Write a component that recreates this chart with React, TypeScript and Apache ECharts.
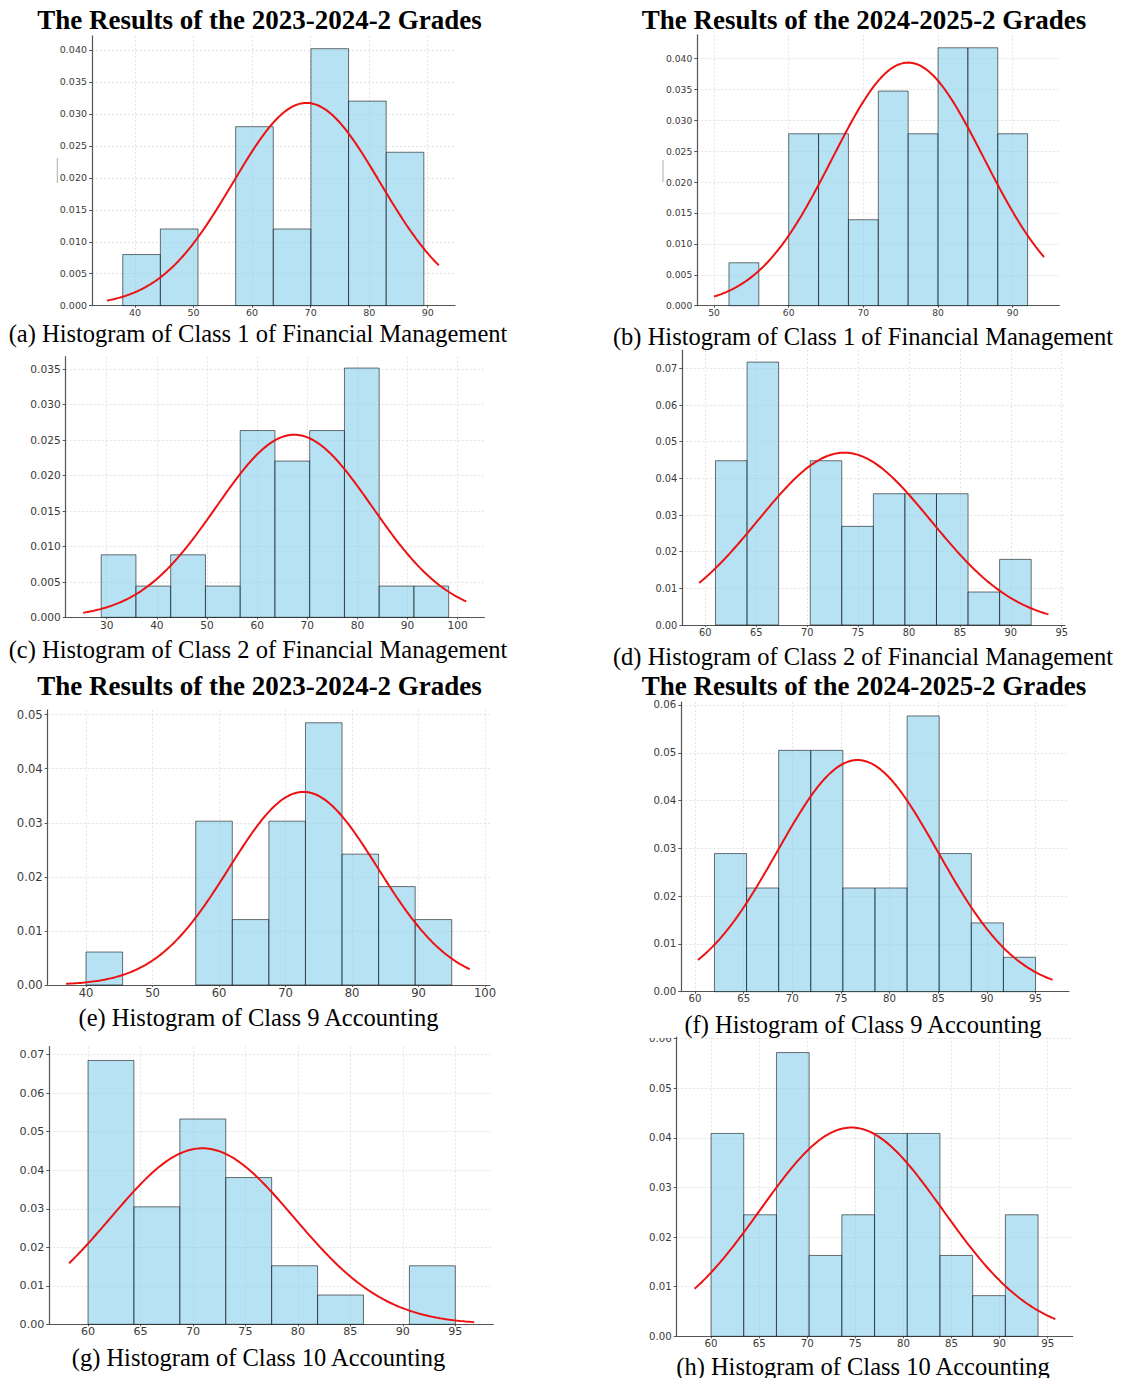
import React, { useEffect, useRef } from 'react';
import * as echarts from 'echarts';

// ---------------- data ----------------
// (a) 2023-2024-2, Class 1 of Financial Management
const binsA = [37.9, 44.33, 50.76, 57.19, 63.62, 70.05, 76.48, 82.91, 89.34];
const densA = [0.008, 0.012, 0, 0.028, 0.012, 0.0402, 0.032, 0.024];
const fitA = { mean: 69.3, sd: 12.58, from: 35.2, to: 91.9 };
const xTicksA = [40, 50, 60, 70, 80, 90];
const yTicksA = [0, 0.005, 0.01, 0.015, 0.02, 0.025, 0.03, 0.035, 0.04];

// (b) 2024-2025-2, Class 1 of Financial Management
const binsB = [52, 56, 60, 64, 68, 72, 76, 80, 84, 88, 92];
const densB = [0.00694, 0, 0.0278, 0.0278, 0.0139, 0.0347, 0.0278, 0.0417, 0.0417, 0.0278];
const fitB = { mean: 76.0, sd: 10.15, from: 50, to: 94.2 };
const xTicksB = [50, 60, 70, 80, 90];
const yTicksB = [0, 0.005, 0.01, 0.015, 0.02, 0.025, 0.03, 0.035, 0.04];

// (c) 2023-2024-2, Class 2 of Financial Management
const binsC = [28.9, 35.83, 42.76, 49.69, 56.62, 63.55, 70.48, 77.41, 84.34, 91.27, 98.2];
const densC = [0.0088, 0.0044, 0.0088, 0.0044, 0.0263, 0.022, 0.0263, 0.0351, 0.0044, 0.0044];
const fitC = { mean: 67.4, sd: 15.52, from: 25.3, to: 101.7 };
const xTicksC = [30, 40, 50, 60, 70, 80, 90, 100];
const yTicksC = [0, 0.005, 0.01, 0.015, 0.02, 0.025, 0.03, 0.035];

// (d) 2024-2025-2, Class 2 of Financial Management
const binsD = [61, 64.1, 67.2, 70.3, 73.4, 76.5, 79.6, 82.7, 85.8, 88.9, 92];
const densD = [0.0448, 0.0717, 0, 0.0448, 0.0269, 0.0358, 0.0358, 0.0358, 0.009, 0.0179];
const fitD = { mean: 73.65, sd: 8.49, from: 59.4, to: 93.7 };
const xTicksD = [60, 65, 70, 75, 80, 85, 90, 95];
const yTicksD = [0, 0.01, 0.02, 0.03, 0.04, 0.05, 0.06, 0.07];

// (e) 2023-2024-2, Class 9 Accounting
const binsE = [40, 45.5, 51, 56.5, 62, 67.5, 73, 78.5, 84, 89.5, 95];
const densE = [0.0061, 0, 0, 0.0303, 0.0121, 0.0303, 0.0485, 0.0242, 0.0182, 0.0121];
const fitE = { mean: 72.7, sd: 11.17, from: 37.0, to: 97.7 };
const xTicksE = [40, 50, 60, 70, 80, 90, 100];
const yTicksE = [0, 0.01, 0.02, 0.03, 0.04, 0.05];

// (f) 2024-2025-2, Class 9 Accounting
const binsF = [62, 65.3, 68.6, 71.9, 75.2, 78.5, 81.8, 85.1, 88.4, 91.7, 95];
const densF = [0.0289, 0.0217, 0.0505, 0.0505, 0.0217, 0.0217, 0.0577, 0.0289, 0.0144, 0.0072];
const fitF = { mean: 76.7, sd: 8.23, from: 60.3, to: 96.75 };
const xTicksF = [60, 65, 70, 75, 80, 85, 90, 95];
const yTicksF = [0, 0.01, 0.02, 0.03, 0.04, 0.05, 0.06];

// (g) 2023-2024-2, Class 10 Accounting
const binsG = [60, 64.375, 68.75, 73.125, 77.5, 81.875, 86.25, 90.625, 95];
const densG = [0.0685, 0.0305, 0.0533, 0.0381, 0.0152, 0.0076, 0, 0.0152];
const fitG = { mean: 70.9, sd: 8.73, from: 58.2, to: 96.8 };
const xTicksG = [60, 65, 70, 75, 80, 85, 90, 95];
const yTicksG = [0, 0.01, 0.02, 0.03, 0.04, 0.05, 0.06, 0.07];

// (h) 2024-2025-2, Class 10 Accounting
const binsH = [60, 63.4, 66.8, 70.2, 73.6, 77, 80.4, 83.8, 87.2, 90.6, 94];
const densH = [0.0409, 0.0245, 0.0572, 0.0163, 0.0245, 0.0409, 0.0409, 0.0163, 0.0082, 0.0245];
const fitH = { mean: 74.6, sd: 9.48, from: 58.3, to: 95.8 };
const xTicksH = [60, 65, 70, 75, 80, 85, 90, 95];
const yTicksH = [0, 0.01, 0.02, 0.03, 0.04, 0.05, 0.06];

const titleTexts = ['The Results of the 2023-2024-2 Grades', 'The Results of the 2024-2025-2 Grades'];
const captionTexts = [
  '(a) Histogram of Class 1 of Financial Management',
  '(b) Histogram of Class 1 of Financial Management',
  '(c) Histogram of Class 2 of Financial Management',
  '(d) Histogram of Class 2 of Financial Management',
  '(e) Histogram of Class 9 Accounting',
  '(f) Histogram of Class 9 Accounting',
  '(g) Histogram of Class 10 Accounting',
  '(h) Histogram of Class 10 Accounting',
];

const panels = [
  { bins: binsA, dens: densA, fit: fitA, xTicks: xTicksA, yTicks: yTicksA, yDec: 3 },
  { bins: binsB, dens: densB, fit: fitB, xTicks: xTicksB, yTicks: yTicksB, yDec: 3 },
  { bins: binsC, dens: densC, fit: fitC, xTicks: xTicksC, yTicks: yTicksC, yDec: 3 },
  { bins: binsD, dens: densD, fit: fitD, xTicks: xTicksD, yTicks: yTicksD, yDec: 2 },
  { bins: binsE, dens: densE, fit: fitE, xTicks: xTicksE, yTicks: yTicksE, yDec: 2 },
  { bins: binsF, dens: densF, fit: fitF, xTicks: xTicksF, yTicks: yTicksF, yDec: 2 },
  { bins: binsG, dens: densG, fit: fitG, xTicks: xTicksG, yTicks: yTicksG, yDec: 2 },
  { bins: binsH, dens: densH, fit: fitH, xTicks: xTicksH, yTicks: yTicksH, yDec: 2 },
];

// ---------------- layout ----------------
const layouts = [
  { left: 92, top: 35.9, width: 363, height: 269.8, xMin: 32.65, xMax: 94.66, yMax: 0.0422, font: 9.5 },
  { left: 697.3, top: 34.8, width: 362, height: 270.9, xMin: 47.76, xMax: 96.24, yMax: 0.0438, font: 9.2 },
  { left: 65.7, top: 356.7, width: 418.6, height: 260.6, xMin: 21.82, xMax: 105.3, yMax: 0.0367, font: 10.6 },
  { left: 682.3, top: 350, width: 382.7, height: 275, xMin: 57.74, xMax: 95.32, yMax: 0.075, font: 9.8 },
  { left: 47.7, top: 709.8, width: 442.3, height: 275.2, xMin: 34.24, xMax: 100.75, yMax: 0.0509, font: 11.6 },
  { left: 681.3, top: 702.1, width: 387.7, height: 289.6, xMin: 58.59, xMax: 98.44, yMax: 0.0606, font: 10.2 },
  { left: 49.3, top: 1046.6, width: 444, height: 277.7, xMin: 56.31, xMax: 98.62, yMax: 0.0721, font: 11.1 },
  { left: 676.7, top: 1037.2, width: 396, height: 299.1, xMin: 56.43, xMax: 97.6, yMax: 0.0603, font: 10.2 },
];

const titlePos = [
  [259.5, 20], [864, 20], [259.5, 686], [864, 686],
];
const captionPos = [
  [258, 333], [863, 336], [258, 649], [863, 656],
  [258.5, 1017], [863, 1024], [258.5, 1357], [863, 1366],
];

function normalPdf(x: number, m: number, s: number) {
  const z = (x - m) / s;
  return Math.exp(-0.5 * z * z) / (s * Math.sqrt(2 * Math.PI));
}

function buildOption() {
  const grid: any[] = [];
  const xAxis: any[] = [];
  const yAxis: any[] = [];
  const series: any[] = [];
  const graphic: any[] = [];

  panels.forEach((p, i) => {
    const L = layouts[i];
    grid.push({ left: L.left, top: L.top, width: L.width, height: L.height, containLabel: false });
    const labelBase = { fontFamily: 'DejaVu Sans', fontSize: L.font, color: '#3a3a3a' };
    const splitLine = { show: true, lineStyle: { color: '#dcdcdc', width: 0.8, type: [2, 2] } };
    xAxis.push({
      type: 'value', gridIndex: i, min: L.xMin, max: L.xMax,
      axisLine: { show: true, onZero: false, lineStyle: { color: '#555', width: 1.2 } },
      axisTick: { show: true, length: 2, lineStyle: { color: '#555' }, customValues: p.xTicks },
      axisLabel: { ...labelBase, margin: 2, customValues: p.xTicks, formatter: (v: number) => String(v) },
      splitLine,
    });
    yAxis.push({
      type: 'value', gridIndex: i, min: 0, max: L.yMax,
      axisLine: { show: true, onZero: false, lineStyle: { color: '#555', width: 1.2 } },
      axisTick: { show: true, length: 3, lineStyle: { color: '#555' }, customValues: p.yTicks },
      axisLabel: { ...labelBase, margin: 5, customValues: p.yTicks, formatter: (v: number) => v.toFixed(p.yDec) },
      splitLine,
    });
    const barData = p.dens.map((d, k) => [p.bins[k], p.bins[k + 1], d]);
    series.push({
      type: 'custom', xAxisIndex: i, yAxisIndex: i, z: 2,
      data: barData,
      encode: { x: [0, 1], y: 2 },
      renderItem: (params: any, api: any) => {
        const h = api.value(2);
        if (!h) return null;
        const p0 = api.coord([api.value(0), h]);
        const p1 = api.coord([api.value(1), 0]);
        return {
          type: 'rect',
          shape: { x: p0[0], y: p0[1], width: p1[0] - p0[0], height: p1[1] - p0[1] },
          style: { fill: 'rgba(135,206,235,0.6)', stroke: 'rgba(0,0,0,0.55)', lineWidth: 1 },
        };
      },
    });
    const f = p.fit;
    const pts: number[][] = [];
    const n = 200;
    for (let k = 0; k <= n; k++) {
      const x = f.from + ((f.to - f.from) * k) / n;
      pts.push([x, normalPdf(x, f.mean, f.sd)]);
    }
    series.push({
      type: 'line', xAxisIndex: i, yAxisIndex: i, z: 5,
      data: pts, symbol: 'none', smooth: false, clip: false,
      lineStyle: { color: '#ee1111', width: 2 },
    });
  });

  // stray marks left of the y labels in (a) and (b)
  graphic.push({ type: 'line', shape: { x1: 57.3, y1: 158, x2: 57.3, y2: 183 }, style: { stroke: '#999', lineWidth: 0.8 } });
  graphic.push({ type: 'line', shape: { x1: 663, y1: 160, x2: 663, y2: 182 }, style: { stroke: '#999', lineWidth: 0.8 } });

  // cover the top of panel (h), which is cropped under caption (f)
  graphic.push({ type: 'rect', z: 100, shape: { x: 636, y: 1026, width: 40, height: 12 }, style: { fill: '#fff' } });

  titlePos.forEach((pos, k) => {
    graphic.push({
      type: 'text', x: pos[0], y: pos[1], z: 101,
      style: {
        text: titleTexts[k % 2], fill: '#000', fontFamily: 'Liberation Serif', fontWeight: 'bold', fontSize: 27,
        align: 'center', verticalAlign: 'middle',
      },
    });
  });
  captionPos.forEach((pos, k) => {
    graphic.push({
      type: 'text', x: pos[0], y: pos[1], z: 101,
      style: {
        text: captionTexts[k], fill: '#000', fontFamily: 'Liberation Serif', fontSize: 24.5,
        align: 'center', verticalAlign: 'middle',
      },
    });
  });

  return { animation: false, backgroundColor: '#fff', grid, xAxis, yAxis, series, graphic };
}

export default function App() {
  const ref = useRef<HTMLDivElement>(null);
  useEffect(() => {
    if (!ref.current) return;
    const chart = echarts.init(ref.current, undefined, { renderer: 'svg' });
    chart.setOption(buildOption() as any);
    return () => chart.dispose();
  }, []);
  return (
    <div
      ref={ref}
      style={{ position: 'absolute', left: 0, top: 0, width: 1121, height: 1378, background: '#fff' }}
    />
  );
}
